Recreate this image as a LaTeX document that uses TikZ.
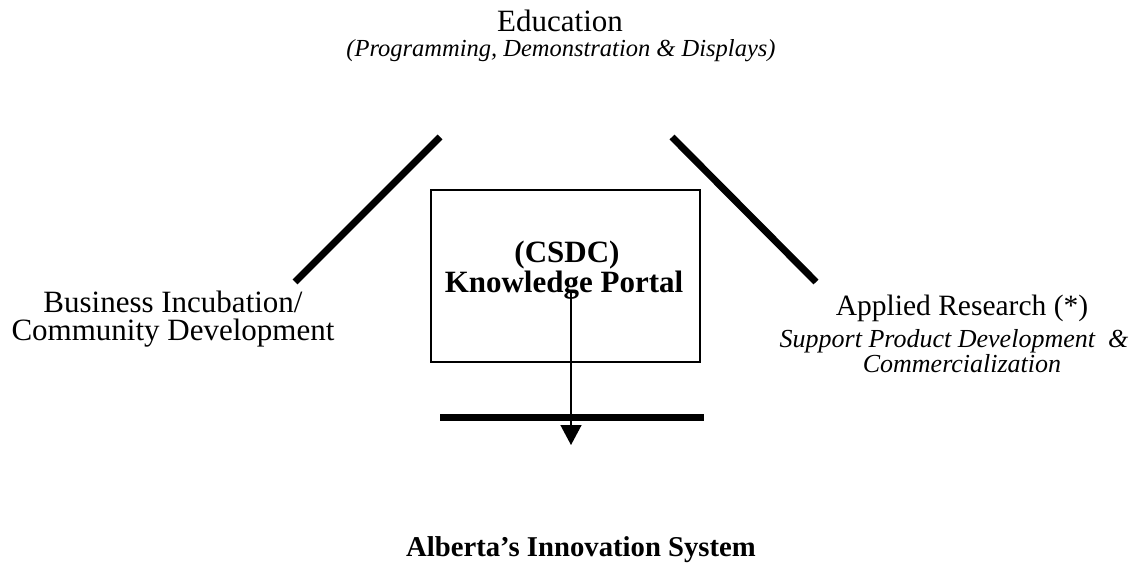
\documentclass[tikz,border=0pt]{standalone}
\usepackage{fontspec}
\setmainfont{Liberation Serif}
\usetikzlibrary{arrows.meta}
\tikzset{
  lbl/.style={anchor=base, inner sep=0pt, font=\fontsize{31}{31}\selectfont},
  ilbl/.style={anchor=base, inner sep=0pt, font=\fontsize{24.5}{24.5}\selectfont\itshape},
  blbl/.style={anchor=base, inner sep=0pt, font=\fontsize{31}{31}\selectfont\bfseries},
  thick bar/.style={line width=7pt, line cap=butt},
  portal/.style={draw, line width=1.5pt, minimum width=269pt, minimum height=172pt, inner sep=0pt},
  flow/.style={line width=1.5pt, -{Triangle[width=21pt,length=20pt]}}
}
\begin{document}
\begin{tikzpicture}[x=1pt,y=-1pt]
\useasboundingbox (0,0) rectangle (1136,567);
% labels
\node[lbl]  (edu)   at (560,32)  {Education};
\node[ilbl] (edusub) at (561,57) {(Programming, Demonstration \& Displays)};
\node[lbl]  (bus1)  at (173,312) {Business Incubation/};
\node[lbl]  (bus2)  at (173,340) {Community Development};
\node[lbl, font=\fontsize{29.5}{29.5}\selectfont]  (ar1)   at (962,315) {Applied Research (*)};
\node[ilbl, font=\fontsize{26}{26}\selectfont\itshape] (ar2)   at (954,347) {Support Product Development \ \&};
\node[ilbl, font=\fontsize{26}{26}\selectfont\itshape] (ar3)   at (962,372) {Commercialization};
\node[blbl, font=\fontsize{28.7}{28.7}\selectfont\bfseries] (ais)   at (581,556) {Alberta’s Innovation System};
% portal box
\node[portal] (box) at (565.5,276) {};
\node[blbl] (csdc) at (567,262) {(CSDC)};
\node[blbl] (kp)   at (564,292) {Knowledge Portal};
% thick lines
\coordinate (l1) at (440,137);
\coordinate (l2) at (295,282);
\coordinate (r1) at (672,137);
\coordinate (r2) at (816,282);
\coordinate (b1) at (440,417);
\coordinate (b2) at (704,417);
\draw[thick bar] (l1) -- (l2);
\draw[thick bar] (r1) -- (r2);
\draw[thick bar] (b1) -- (b2);
% arrow
\coordinate (a1) at (571,292);
\coordinate (a2) at (571,445);
\draw[flow] (a1) -- (a2);
\end{tikzpicture}
\end{document}
